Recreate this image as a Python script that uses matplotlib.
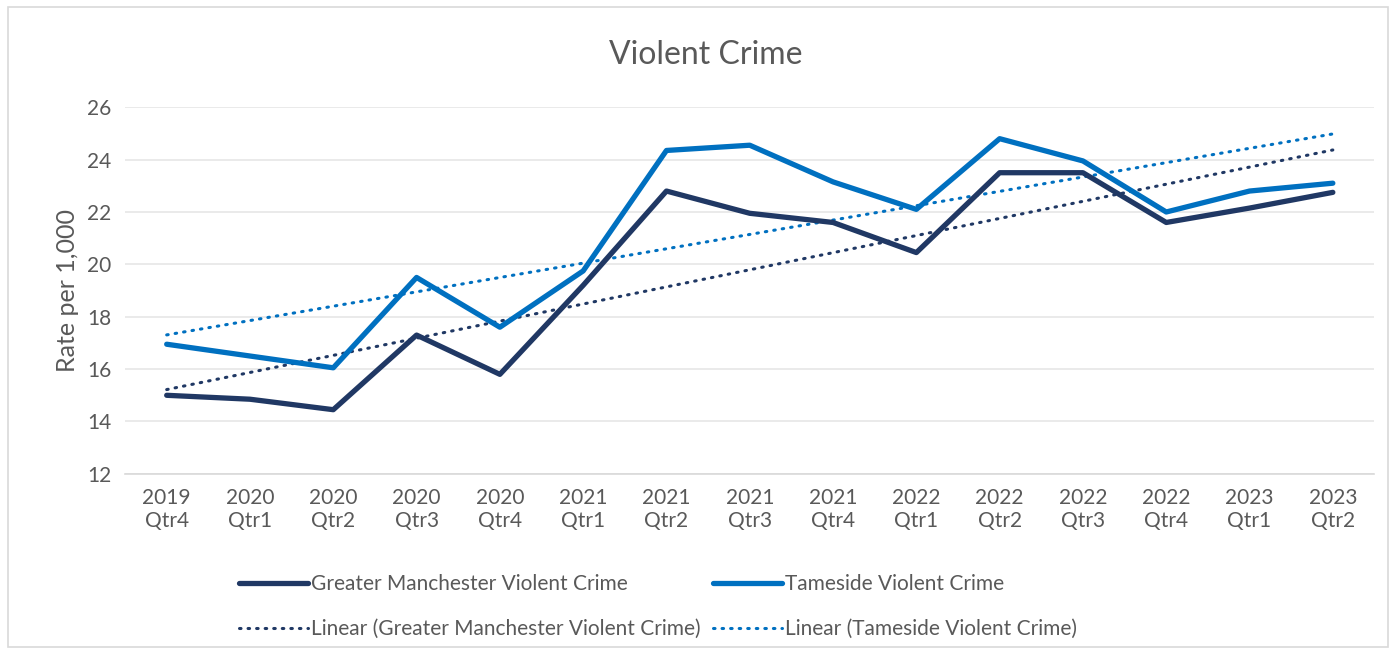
import numpy as np
import matplotlib.pyplot as plt
from matplotlib.patches import Rectangle

plt.rcParams['font.family'] = ['Lato', 'DejaVu Sans']

quarters = ['2019\nQtr4', '2020\nQtr1', '2020\nQtr2', '2020\nQtr3', '2020\nQtr4',
            '2021\nQtr1', '2021\nQtr2', '2021\nQtr3', '2021\nQtr4', '2022\nQtr1',
            '2022\nQtr2', '2022\nQtr3', '2022\nQtr4', '2023\nQtr1', '2023\nQtr2']
gm = [15.0, 14.85, 14.45, 17.3, 15.8, 19.2, 22.8, 21.95, 21.6, 20.45,
      23.5, 23.5, 21.6, 22.15, 22.75]
tameside = [16.95, 16.5, 16.05, 19.5, 17.6, 19.75, 24.35, 24.55, 23.15, 22.1,
            24.8, 23.95, 22.0, 22.8, 23.1]

navy = '#203864'
blue = '#0070C0'
grey = '#595959'

x = np.arange(len(quarters))

fig = plt.figure(figsize=(13.94, 6.5), dpi=100)
ax = fig.add_axes([0.0897, 0.271, 0.8963, 0.564])

l1, = ax.plot(x, gm, color=navy, linewidth=3.8, solid_capstyle='round',
              label='Greater Manchester Violent Crime', zorder=4)
l2, = ax.plot(x, tameside, color=blue, linewidth=3.8, solid_capstyle='round',
              label='Tameside Violent Crime', zorder=4)

# linear trendlines fitted to the series
k1, b1 = np.polyfit(x, gm, 1)
k2, b2 = np.polyfit(x, tameside, 1)
l3, = ax.plot(x, k1 * x + b1, color=navy, linewidth=2.2, linestyle=(0, (0.5, 2.3)),
              dash_capstyle='round', label='Linear (Greater Manchester Violent Crime)', zorder=3)
l4, = ax.plot(x, k2 * x + b2, color=blue, linewidth=2.2, linestyle=(0, (0.5, 2.3)),
              dash_capstyle='round', label='Linear (Tameside Violent Crime)', zorder=3)

ax.set_xlim(-0.5, len(quarters) - 0.5)
ax.set_ylim(12, 26)
ax.set_yticks(range(12, 27, 2))
ax.set_xticks(x)
ax.set_xticklabels(quarters)
ax.grid(axis='y', color='#e6e6e6', linewidth=1.2)
ax.set_axisbelow(True)
for s in ['top', 'right', 'left']:
    ax.spines[s].set_visible(False)
ax.spines['bottom'].set_color('#d9d9d9')
ax.spines['bottom'].set_linewidth(1.2)
ax.tick_params(axis='both', length=0, labelsize=15, labelcolor=grey, pad=10)
ax.set_ylabel('Rate per 1,000', fontsize=18, color=grey, labelpad=6)

# title is centred on the whole chart, not the plot area
fig.text(0.506, 0.915, 'Violent Crime', fontsize=23, color=grey, ha='center', va='center')

hs = [l1, l3, l2, l4]
fig.legend(hs, [h.get_label() for h in hs], ncol=2, loc='lower left',
           bbox_to_anchor=(0.158, -0.012), frameon=False, fontsize=15, labelcolor=grey,
           handlelength=3.3, handletextpad=0.15, columnspacing=0.6, labelspacing=1.2)

fig.patches.append(Rectangle((0.006, 0.005), 0.99, 0.985, transform=fig.transFigure,
                             fill=False, edgecolor='#d9d9d9', linewidth=1.2))

fig.savefig('out.png', dpi=100)
